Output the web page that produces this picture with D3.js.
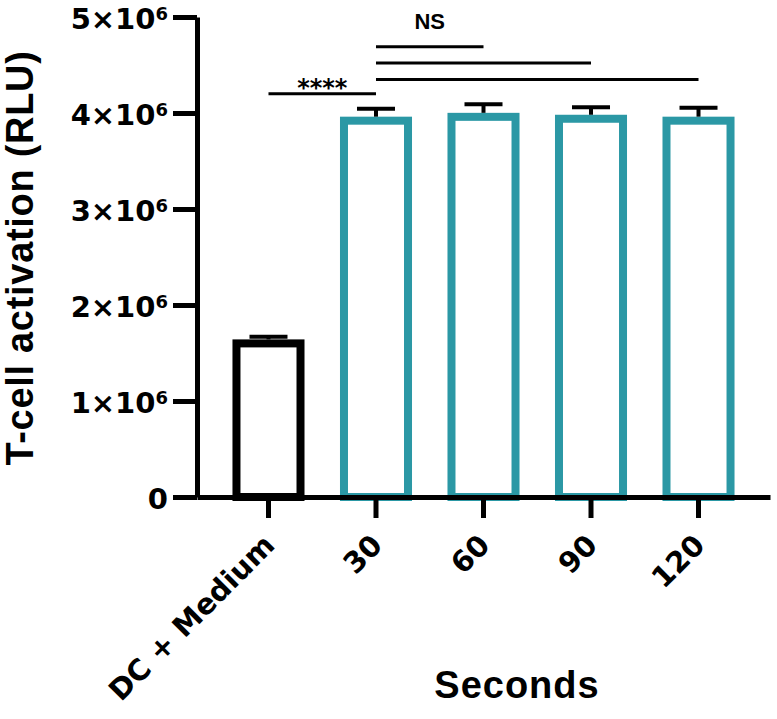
<!DOCTYPE html>
<html>
<head>
<meta charset="utf-8">
<script src="https://cdn.jsdelivr.net/npm/d3@7"></script>
<style>
  body { margin: 0; background: #fff; }
  svg { display: block; }
</style>
</head>
<body>
<div id="chart"></div>
<script>
// T-cell activation bar chart (mean + SEM)

const categories = ['DC + Medium', '30', '60', '90', '120'];
const groups = ['control', 'time', 'time', 'time', 'time'];
const means = [1.6e6, 3.92e6, 3.96e6, 3.94e6, 3.92e6];
const sems = [0.07e6, 0.125e6, 0.13e6, 0.12e6, 0.135e6];

const yTicks = [0, 1e6, 2e6, 3e6, 4e6, 5e6];

// significance brackets
const compFrom = ['DC + Medium', '30', '30', '30'];
const compTo = ['30', '120', '90', '60'];
const compLevel = [4.2e6, 4.35e6, 4.52e6, 4.69e6];
const compLabels = ['****', '', '', 'NS'];

const width = 777;
const height = 719;
const teal = '#2b98a5';
const tickFont = '"DejaVu Sans", sans-serif';
const titleFont = '"Liberation Sans", Arial, sans-serif';

const svg = d3.select('#chart')
  .append('svg')
  .attr('width', width)
  .attr('height', height);

const x = d3.scaleBand()
  .domain(categories)
  .range([197, 770])
  .paddingInner(0.33)
  .paddingOuter(0.33);

const y = d3.scaleLinear()
  .domain([0, 5e6])
  .range([497, 17]);

const colorOf = g => g === 'control' ? '#000' : teal;

// Bars
const data = categories.map((c, i) => ({ c, g: groups[i], m: means[i], e: sems[i] }));
const bw = x.bandwidth();

svg.append('g')
  .selectAll('rect')
  .data(data)
  .enter().append('rect')
  .attr('x', d => x(d.c) + 4)
  .attr('width', bw - 8)
  .attr('y', d => y(d.m))
  .attr('height', d => y(0) - y(d.m))
  .attr('fill', '#fff')
  .attr('stroke', d => colorOf(d.g))
  .attr('stroke-width', 8);

// Error bars (upper only)
const err = svg.append('g')
  .selectAll('g')
  .data(data)
  .enter().append('g');

err.append('line')
  .attr('x1', d => x(d.c) + bw / 2)
  .attr('x2', d => x(d.c) + bw / 2)
  .attr('y1', d => y(d.m) - 4)
  .attr('y2', d => y(d.m + d.e))
  .attr('stroke', '#000')
  .attr('stroke-width', 4);

err.append('line')
  .attr('x1', d => x(d.c) + bw / 2 - 19)
  .attr('x2', d => x(d.c) + bw / 2 + 19)
  .attr('y1', d => y(d.m + d.e))
  .attr('y2', d => y(d.m + d.e))
  .attr('stroke', '#000')
  .attr('stroke-width', 4);

// Y axis
const yAxis = svg.append('g')
  .attr('transform', 'translate(197,0)')
  .call(d3.axisLeft(y).tickValues(yTicks).tickSize(24).tickSizeOuter(0).tickPadding(5));

yAxis.selectAll('path, line')
  .attr('stroke', '#000')
  .attr('stroke-width', 5);

yAxis.selectAll('.tick text')
  .attr('font-family', tickFont)
  .attr('font-weight', 'bold')
  .attr('font-size', 29)
  .attr('fill', '#000')
  .attr('dy', 11)
  .each(function (d) {
    const t = d3.select(this);
    t.text(null);
    if (d === 0) {
      t.append('tspan').text('0');
    } else {
      t.append('tspan').text(`${d / 1e6}×10`);
      t.append('tspan').attr('font-size', 18).attr('dy', -9).text('6');
    }
  });

// X axis
const xAxis = svg.append('g')
  .attr('transform', 'translate(0,497)')
  .call(d3.axisBottom(x).tickSize(21).tickSizeOuter(0));

xAxis.selectAll('path, line')
  .attr('stroke', '#000')
  .attr('stroke-width', 5);

xAxis.selectAll('.tick text')
  .attr('font-family', tickFont)
  .attr('font-weight', 'bold')
  .attr('font-size', 29)
  .attr('fill', '#000')
  .attr('x', 0)
  .attr('y', 0)
  .attr('dy', 0)
  .attr('text-anchor', 'end')
  .attr('transform', 'translate(8,50) rotate(-45)');

// Significance brackets
const comps = compFrom.map((f, i) => ({ f, t: compTo[i], lvl: compLevel[i], label: compLabels[i] }));
const cx = c => x(c) + bw / 2;

svg.append('g')
  .selectAll('line')
  .data(comps)
  .enter().append('line')
  .attr('x1', d => cx(d.f))
  .attr('x2', d => cx(d.t))
  .attr('y1', d => y(d.lvl))
  .attr('y2', d => y(d.lvl))
  .attr('stroke', '#000')
  .attr('stroke-width', 3);

svg.append('g')
  .selectAll('text')
  .data(comps.filter(d => d.label))
  .enter().append('text')
  .attr('x', d => (cx(d.f) + cx(d.t)) / 2)
  .attr('y', d => d.label === 'NS' ? y(d.lvl) - 18 : y(d.lvl) + 2)
  .attr('text-anchor', 'middle')
  .attr('font-family', d => d.label === 'NS' ? titleFont : tickFont)
  .attr('font-weight', 'bold')
  .attr('font-size', d => d.label === 'NS' ? 22 : 24)
  .text(d => d.label);

// Axis titles
svg.append('text')
  .attr('transform', 'translate(33,258) rotate(-90)')
  .attr('text-anchor', 'middle')
  .attr('font-family', titleFont)
  .attr('font-weight', 'bold')
  .attr('font-size', 38)
  .attr('letter-spacing', 0.7)
  .text('T-cell activation (RLU)');

svg.append('text')
  .attr('x', 517)
  .attr('y', 698)
  .attr('text-anchor', 'middle')
  .attr('font-family', titleFont)
  .attr('font-weight', 'bold')
  .attr('font-size', 38)
  .attr('letter-spacing', 1)
  .text('Seconds');
</script>
</body>
</html>
